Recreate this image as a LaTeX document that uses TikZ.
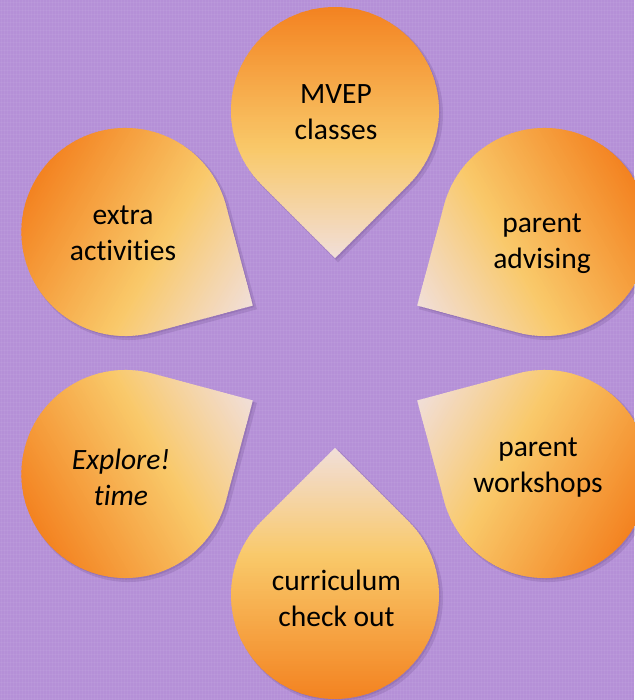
\documentclass[tikz,border=0pt]{standalone}
\usepackage{fontspec}
\setmainfont{Carlito}[Ligatures={NoCommon}]
\definecolor{bgC}{RGB}{181,144,215}
\definecolor{orC}{RGB}{243,131,33}
\definecolor{yeC}{RGB}{249,201,106}
\definecolor{paC}{RGB}{241,222,216}
\definecolor{shC}{RGB}{80,50,110}
\tikzset{
  lbl/.style={align=center, font=\fontsize{29.5}{36}\selectfont, text=black, inner sep=0pt},
  dropshadow/.style={fill=shC, opacity=0.16},
  texture/.style={white, opacity=0.05, line width=0.7pt},
}
\newcommand{\petal}[1]{%
  \begin{scope}[shift={(#1:242)}, xshift=3, yshift=-3, rotate=#1-90]
    \fill[dropshadow] (-45:105) arc[start angle=-45, end angle=225, radius=105] -- (0,-148.5) -- cycle;
  \end{scope}
  \begin{scope}[shift={(#1:242)}, xshift=1.5, yshift=-1.5, rotate=#1-90]
    \fill[dropshadow] (-45:104) arc[start angle=-45, end angle=225, radius=104] -- (0,-147.08) -- cycle;
  \end{scope}
  \begin{scope}[shift={(#1:242)}, rotate=#1-90]
    \clip (-45:104) arc[start angle=-45, end angle=225, radius=104] -- (0,-147.08) -- cycle;
    \foreach \i in {0,...,99}{%
      \pgfmathsetmacro\bandt{\i/99}%
      \ifdim\bandt pt<0.57pt
        \pgfmathsetmacro\bandp{100*\bandt/0.57}%
        \colorlet{bandC}{yeC!\bandp!orC}%
      \else
        \pgfmathsetmacro\bandp{100*(\bandt-0.57)/0.43}%
        \colorlet{bandC}{paC!\bandp!yeC}%
      \fi
      \fill[bandC] (-106,{104-2.511*\i}) rectangle (106,{104-2.511*(\i+1)-0.8});
    }
  \end{scope}
}
\begin{document}
\begin{tikzpicture}[x=1pt, y=1pt]
  \useasboundingbox (0,0) rectangle (634,700);
  \fill[bgC] (0,0) rectangle (634,700);
  \foreach \x in {1,4,...,634} \draw[texture] (\x,0) -- (\x,700);
  \foreach \y in {2,6,...,700} \draw[texture] (0,\y) -- (634,\y);
  \begin{scope}[shift={(335,347)}]
    \petal{90}
    \petal{30}
    \petal{-30}
    \petal{-90}
    \petal{210}
    \petal{150}
  \end{scope}
  \node[lbl] (mvep)  at (336,588)   {MVEP\\classes};
  \node[lbl] (adv)   at (542,456.5) {parent\\advising};
  \node[lbl] (work)  at (538,232)   {parent\\workshops};
  \node[lbl] (cur)   at (336.5,102) {curriculum\\check out};
  \node[lbl, font=\fontsize{29.5}{36}\selectfont\itshape] (expl) at (121,223) {Explore!\\time};
  \node[lbl] (extra) at (123,466.5) {extra\\activities};
\end{tikzpicture}
\end{document}
